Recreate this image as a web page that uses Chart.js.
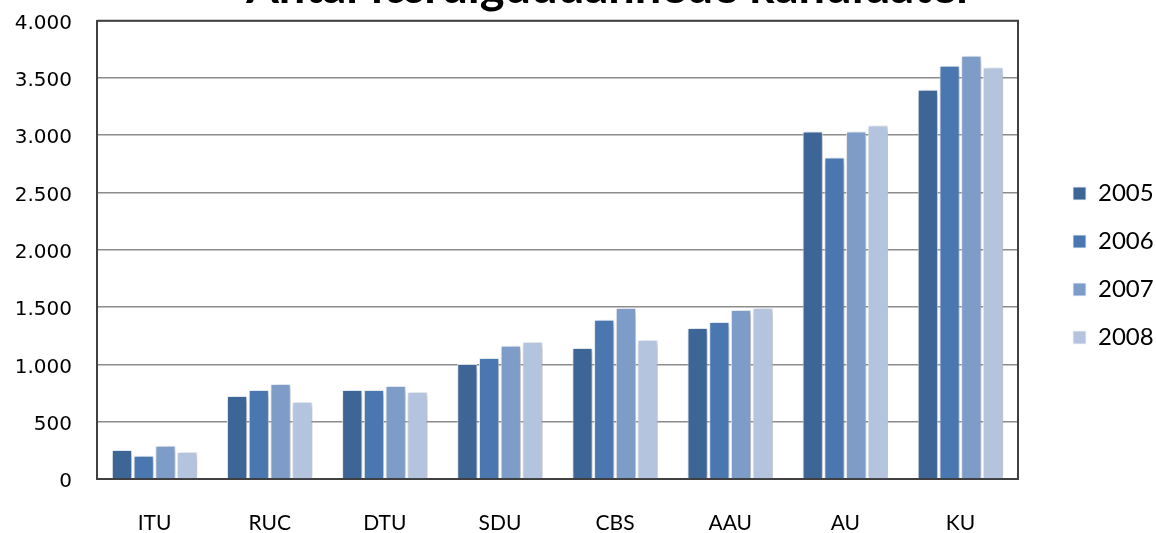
<!DOCTYPE html>
<html>
<head>
<meta charset="utf-8">
<script src="https://cdn.jsdelivr.net/npm/chart.js@4"></script>
<style>
  html, body { margin: 0; padding: 0; background: #fff; overflow: hidden; }
  #wrap { position: absolute; left: 0; top: -40px; width: 1156px; height: 583px; }
</style>
</head>
<body>
<div id="wrap"><canvas id="chart" width="1156" height="583"></canvas></div>
<script>
// Antal færdiguddannede kandidater pr. universitet, 2005-2008

const titleText = 'Antal færdiguddannede kandidater'
const universities = ['ITU', 'RUC', 'DTU', 'SDU', 'CBS', 'AAU', 'AU', 'KU']
const years = ['2005', '2006', '2007', '2008']

const v2005 = [253, 725, 777, 1004, 1144, 1319, 3033, 3397]
const v2006 = [204, 777, 777, 1057, 1389, 1371, 2806, 3607]
const v2007 = [291, 830, 812, 1162, 1493, 1476, 3033, 3694]
const v2008 = [236, 672, 760, 1196, 1214, 1493, 3086, 3592]

const yTicks = [0, 500, 1000, 1500, 2000, 2500, 3000, 3500, 4000]
const yTickLabels = ['0', '500', '1.000', '1.500', '2.000', '2.500', '3.000', '3.500', '4.000']

const colors = ['#3d6596', '#4a77b0', '#7e9cc8', '#b4c4de']
const series = [v2005, v2006, v2007, v2008]

const datasets = years.map((y, i) => ({
    label: y,
    data: series[i],
    backgroundColor: colors[i],
    borderColor: 'rgba(240, 244, 250, 0.9)',
    borderWidth: 1,
    categoryPercentage: 0.755,
    barPercentage: 0.93
}))

// legend sits in a fixed 138px strip on the right; items moved in a bit
const legendPlace = {
    id: 'legendPlace',
    beforeLayout(chart) {
        const L = chart.legend
        if (L && !L._fixed) {
            const fit = L.fit.bind(L)
            L.fit = function () { fit(); this.width = 138 }
            L._fixed = true
        }
    },
    afterLayout(chart) {
        const L = chart.legend
        L.left += 31; L.right += 31
        L.top += 14; L.bottom += 14
        const T = chart.titleBlock
        T.left += 32; T.right += 32
    }
}

// soft drop shadow under the bars + dark frame round the plot
const barShadow = {
    id: 'barShadow',
    beforeDatasetsDraw(chart) {
        const ctx = chart.ctx
        const a = chart.chartArea
        ctx.save()
        ctx.strokeStyle = '#404040'
        ctx.lineWidth = 2
        ctx.beginPath()
        ctx.moveTo(a.left, a.top)
        ctx.lineTo(a.right, a.top)
        ctx.lineTo(a.right, a.bottom)
        ctx.stroke()
        ctx.restore()
        ctx.save()
        ctx.shadowColor = 'rgba(0, 0, 0, 0.3)'
        ctx.shadowBlur = 6
        ctx.shadowOffsetX = 2
        ctx.shadowOffsetY = 2
    },
    afterDatasetsDraw(chart) {
        chart.ctx.restore()
    }
}

const frame = document.getElementById('chart')

new Chart(frame, {
    type: 'bar',
    data: { labels: universities, datasets: datasets },
    plugins: [legendPlace, barShadow],
    options: {
        responsive: false,
        animation: false,
        layout: { padding: 0 },
        plugins: {
            title: {
                display: true,
                text: titleText,
                color: '#000',
                font: { family: 'Lato', size: 47, weight: 'bold', lineHeight: 1.1 },
                padding: { top: 2, bottom: 7 }
            },
            legend: {
                position: 'right',
                labels: {
                    color: '#000',
                    font: { family: 'Lato', size: 24 },
                    boxWidth: 13,
                    boxHeight: 13,
                    padding: 24
                }
            },
            tooltip: { enabled: false }
        },
        scales: {
            x: {
                grid: { display: false, drawTicks: false },
                border: { color: '#404040', width: 2 },
                ticks: {
                    color: '#000',
                    font: { family: 'Lato', size: 21 },
                    padding: 32,
                    maxRotation: 0
                },
                afterFit(scale) { scale.height = 64 }
            },
            y: {
                min: 0,
                max: 4000,
                afterBuildTicks(scale) { scale.ticks = yTicks.map(v => ({ value: v })) },
                grid: { color: '#8c8c8c', lineWidth: 1.6, drawTicks: false },
                border: { color: '#404040', width: 2 },
                ticks: {
                    color: '#000',
                    font: { family: 'DejaVu Sans', size: 20 },
                    padding: 25,
                    labelOffset: 3,
                    callback: (v, i) => yTickLabels[i]
                },
                afterFit(scale) { scale.width = 97 }
            }
        }
    }
})
</script>
</body>
</html>
